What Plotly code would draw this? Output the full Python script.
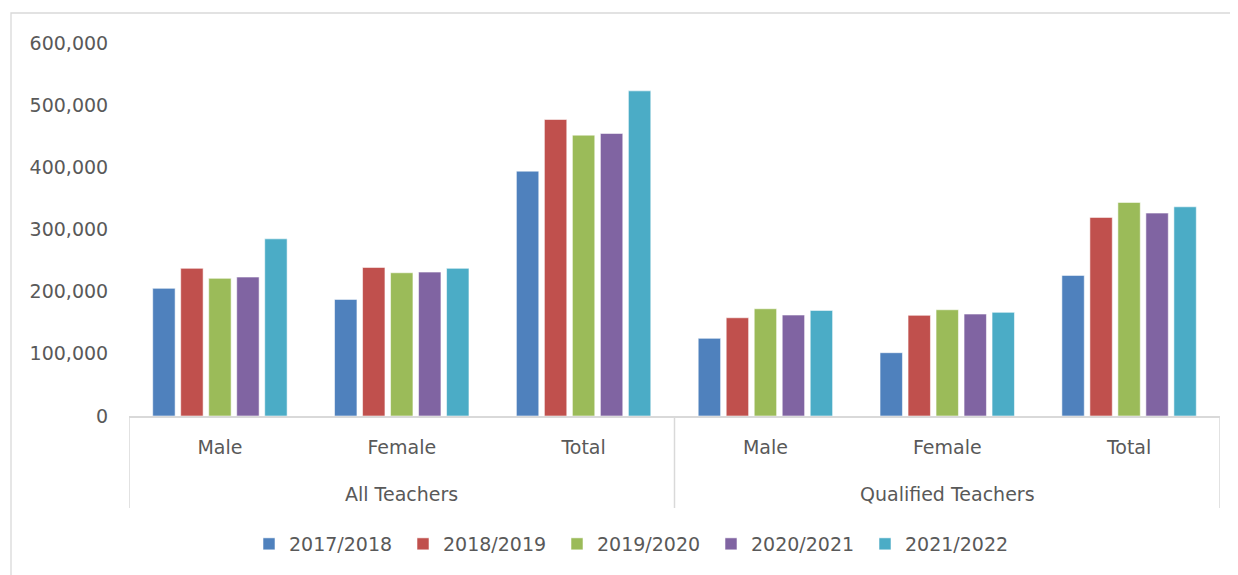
import plotly.graph_objects as go

groups = ["All Teachers", "Qualified Teachers"]
subcats = ["Male", "Female", "Total"]
years = ["2017/2018", "2018/2019", "2019/2020", "2020/2021", "2021/2022"]

v2017 = [205300, 187600, 393900, 124900, 101800, 226200]
v2018 = [237500, 239000, 477000, 158000, 161900, 319500]
v2019 = [221400, 230400, 451800, 172500, 170900, 343600]
v2020 = [223500, 231500, 454500, 162400, 164000, 326400]
v2021 = [285000, 237500, 523000, 169900, 166700, 336500]
series = [v2017, v2018, v2019, v2020, v2021]

colors = ["#4F81BD", "#C0504D", "#9BBB59", "#8064A2", "#4BACC6"]

FONT = "DejaVu Sans"
TXT = "#595959"
GRID = "#D9D9D9"

n_sub = len(subcats)
xpos = list(range(len(groups) * n_sub))
ticktext = [s for g in groups for s in subcats]

fig = go.Figure()
for name, vals, col in zip(years, series, colors):
    fig.add_trace(go.Bar(
        x=xpos, y=vals, name=name,
        marker=dict(color=col, line=dict(color="rgba(255,255,255,0.55)", width=1)),
        hoverinfo="x+y+name",
    ))

# page body has an 8px margin, so the figure starts at (8, 8)
OFF = 8
W, H = 1238 - OFF, 575 - OFF
L, R, T, B = 129 - OFF, 18, 43 - OFF, 159
pw, ph = W - L - R, H - T - B

def py(pix):
    # pix: window pixel coordinate
    return (H - B - (pix - OFF)) / ph

def px(pix):
    return ((pix - OFF) - L) / pw

shapes = []
bounds = [-0.5 + i * n_sub for i in range(len(groups) + 1)]
for b in bounds:
    shapes.append(dict(type="line", xref="x", yref="paper", x0=b, x1=b,
                       y0=0, y1=py(508), line=dict(color=GRID, width=1.5)))
shapes.append(dict(type="rect", xref="paper", yref="paper",
                   x0=px(11), x1=px(1260), y0=py(600), y1=py(13),
                   line=dict(color=GRID, width=1.3), fillcolor="rgba(0,0,0,0)", layer="below"))

annotations = []
for i, g in enumerate(groups):
    annotations.append(dict(text=g, xref="x", yref="paper", x=i * n_sub + (n_sub - 1) / 2,
                            y=py(494), yanchor="middle", xanchor="center", showarrow=False,
                            font=dict(family=FONT, size=19, color=TXT)))

fig.update_layout(
    width=W, height=H,
    margin=dict(l=L, r=R, t=T, b=B, autoexpand=False),
    paper_bgcolor="white", plot_bgcolor="white",
    barmode="group", bargap=0.23, bargroupgap=0.2,
    font=dict(family=FONT, size=19, color=TXT),
    xaxis=dict(
        range=[-0.5, len(xpos) - 0.5], tickmode="array", tickvals=xpos, ticktext=ticktext,
        showline=True, linecolor=GRID, linewidth=1.5, showgrid=False, zeroline=False,
        ticks="outside", ticklen=13, tickcolor="rgba(0,0,0,0)",
        tickfont=dict(family=FONT, size=19, color=TXT), fixedrange=True,
    ),
    yaxis=dict(
        range=[0, 600000], dtick=100000, tickformat=",", showgrid=False, zeroline=False,
        showline=False, ticks="outside", ticklen=16, tickcolor="rgba(0,0,0,0)",
        tickfont=dict(family=FONT, size=19, color=TXT), fixedrange=True,
    ),
    legend=dict(orientation="h", x=px(249), xanchor="left", y=py(544), yanchor="middle",
                entrywidth=109, font=dict(family=FONT, size=19, color=TXT),
                bgcolor="rgba(0,0,0,0)", traceorder="normal"),
    shapes=shapes, annotations=annotations,
)

fig.write_html("out.html")
